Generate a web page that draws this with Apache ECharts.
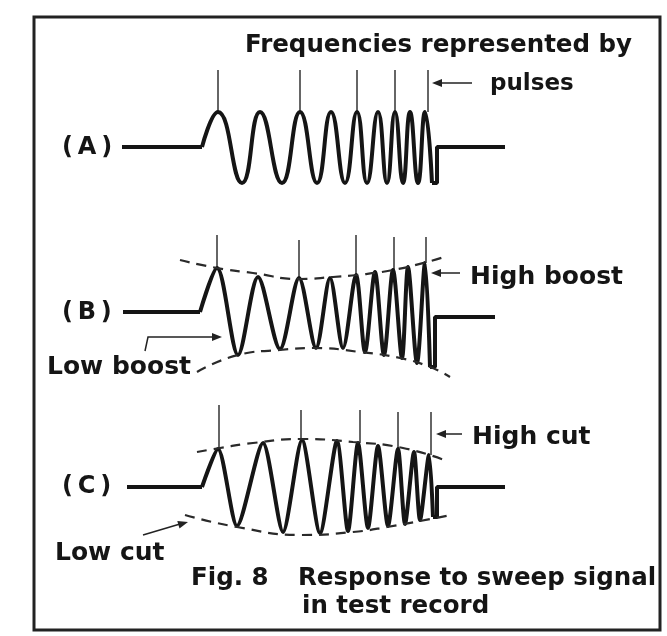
<!DOCTYPE html>
<html>
<head>
<meta charset="utf-8">
<title>Fig. 8 Response to sweep signal</title>
<script src="https://cdn.jsdelivr.net/npm/echarts@6.0.0/dist/echarts.min.js"></script>
<style>
  html, body { margin: 0; padding: 0; background: #fff; }
  #chart { width: 667px; height: 636px; }
</style>
</head>
<body>
<div id="chart"></div>
<script>
// time runs left to right on every trace, amplitude is measured from the trace's rest line

// (A) flat response
const aLead = [12, 92];
const aPeakT = [108, 150, 190, 221, 247, 268, 285, 300, 315];
const aPeakV = [35, 35, 35, 35, 35, 35, 35, 35, 35];
const aTroughT = [132, 172, 207, 235, 257, 277, 293, 308, 322];
const aTroughV = [-36, -36, -36, -36, -36, -36, -36, -36, -36];
const aTail = [327, 395, 0]; // drop time, end time, rest level
const aPulseT = [108, 190, 247, 285, 318];
const aPulseTop = [77, 77, 77, 77, 77];
const aPulseBase = [35, 35, 35, 35, 35];

// (B) low boost + high boost
const bLead = [13, 90];
const bPeakT = [107, 148, 189, 220, 246, 265, 283, 298, 315];
const bPeakV = [44, 35, 34, 34, 37, 40, 42, 45, 49];
const bTroughT = [128, 170, 206, 233, 255, 274, 292, 307, 320];
const bTroughV = [-43, -37, -36, -36, -40, -43, -46, -51, -55];
const bTail = [325, 385, -5];
const bPulseT = [107, 189, 246, 284, 316];
const bPulseTop = [77, 72, 77, 75, 75];
const bPulseBase = [44, 34, 37, 42, 49];
const bUpper = [[70, 52], [107, 44], [143, 39], [190, 33], [223, 35], [247, 37], [283, 42], [317, 50], [337, 56]];
const bLower = [[87, -60], [128, -43], [170, -38], [203, -36], [250, -40], [290, -46], [320, -55], [340, -65]];

// (C) low cut + high cut
const cLead = [17, 92];
const cPeakT = [108, 153, 192, 227, 248, 268, 288, 304, 319];
const cPeakV = [38, 44, 47, 46, 44, 41, 38, 35, 32];
const cTroughT = [127, 173, 210, 238, 258, 278, 295, 310, 323];
const cTroughV = [-39, -45, -46, -44, -41, -39, -37, -33, -30];
const cTail = [327, 395, 0];
const cPulseT = [109, 191, 250, 288, 321];
const cPulseTop = [82, 77, 77, 75, 75];
const cPulseBase = [38, 47, 44, 38, 32];
const cUpper = [[87, 35], [110, 39], [143, 44], [192, 48], [243, 45], [293, 39], [337, 26]];
const cLower = [[75, -28], [127, -40], [192, -48], [243, -45], [277, -40], [341, -28]];

const INK = '#151515';
const FONT = 'DejaVu Sans';

const traces = [
    { lead: aLead, peakT: aPeakT, peakV: aPeakV, troughT: aTroughT, troughV: aTroughV, tail: aTail,
      pulseT: aPulseT, pulseTop: aPulseTop, pulseBase: aPulseBase, smooth: 0.5 },
    { lead: bLead, peakT: bPeakT, peakV: bPeakV, troughT: bTroughT, troughV: bTroughV, tail: bTail,
      pulseT: bPulseT, pulseTop: bPulseTop, pulseBase: bPulseBase, smooth: 0.3, upper: bUpper, lower: bLower },
    { lead: cLead, peakT: cPeakT, peakV: cPeakV, troughT: cTroughT, troughV: cTroughV, tail: cTail,
      pulseT: cPulseT, pulseTop: cPulseTop, pulseBase: cPulseBase, smooth: 0.25, upper: cUpper, lower: cLower }
];

// rest lines of the three traces sit at y = 147, 312, 487
const gridTops = [47, 212, 387];

let grids = [], xAxes = [], yAxes = [], series = [];

traces.forEach(function (tr, k) {
    grids.push({ left: 110, top: gridTops[k], width: 400, height: 200 });
    xAxes.push({ type: 'value', gridIndex: k, min: 0, max: 400, show: false });
    yAxes.push({ type: 'value', gridIndex: k, min: -100, max: 100, show: false });

    let lineBase = { type: 'line', xAxisIndex: k, yAxisIndex: k, symbol: 'none', silent: true, clip: false };

    // rest line before the sweep
    series.push(Object.assign({}, lineBase, {
        data: [[tr.lead[0], 0], [tr.lead[1], 0]],
        lineStyle: { color: INK, width: 4 }
    }));

    // the sweep itself: peak, trough, peak ...
    let wave = [[tr.lead[1], 0]];
    for (let i = 0; i < tr.peakT.length; i++) {
        wave.push([tr.peakT[i], tr.peakV[i]]);
        wave.push([tr.troughT[i], tr.troughV[i]]);
    }
    series.push(Object.assign({}, lineBase, {
        data: wave,
        smooth: tr.smooth,
        lineStyle: { color: INK, width: 4, join: 'round' }
    }));

    // sharp return to the rest line after the sweep
    let last = tr.troughV[tr.troughV.length - 1];
    series.push(Object.assign({}, lineBase, {
        data: [[tr.troughT[tr.troughT.length - 1], last], [tr.tail[0], last], [tr.tail[0], tr.tail[2]], [tr.tail[1], tr.tail[2]]],
        lineStyle: { color: INK, width: 4 }
    }));

    // dashed envelopes
    if (tr.upper) {
        [tr.upper, tr.lower].forEach(function (env) {
            series.push(Object.assign({}, lineBase, {
                data: env,
                smooth: 0.5,
                lineStyle: { color: '#2a2a2a', width: 2.2, type: [10, 7] }
            }));
        });
    }

    // frequency marker pulses
    series.push({
        type: 'custom',
        xAxisIndex: k,
        yAxisIndex: k,
        silent: true,
        data: tr.pulseT.map(function (t, i) { return [t, tr.pulseTop[i], tr.pulseBase[i]]; }),
        renderItem: function (params, api) {
            let p1 = api.coord([api.value(0), api.value(1)]);
            let p2 = api.coord([api.value(0), api.value(2)]);
            return {
                type: 'line',
                shape: { x1: p1[0], y1: p1[1], x2: p2[0], y2: p2[1] },
                style: { stroke: '#333', lineWidth: 1.5 }
            };
        }
    });
});

function label (text, x, y, size) {
    return {
        type: 'text', x: x, y: y, silent: true,
        style: { text: text, fill: INK, font: 'bold ' + size + 'px "' + FONT + '"', textVerticalAlign: 'middle' }
    };
}

function arrow (points, tip, from) {
    // arrow head pointing at tip, coming from point "from"
    let dx = tip[0] - from[0], dy = tip[1] - from[1];
    let len = Math.sqrt(dx * dx + dy * dy);
    let ux = dx / len, uy = dy / len;
    let bx = tip[0] - ux * 10, by = tip[1] - uy * 10;
    return [
        { type: 'polyline', silent: true, shape: { points: points }, style: { stroke: '#222', lineWidth: 1.5, fill: null } },
        { type: 'polygon', silent: true,
          shape: { points: [tip, [bx - uy * 4, by + ux * 4], [bx + uy * 4, by - ux * 4]] },
          style: { fill: '#222' } }
    ];
}

let graphics = [
    { type: 'rect', silent: true, shape: { x: 34, y: 17, width: 626, height: 613 },
      style: { fill: null, stroke: '#222', lineWidth: 3 } },
    label('Frequencies represented by', 245, 46, 24.5),
    label('pulses', 490, 84, 23),
    label('(\u2009A\u2009)', 62, 148, 24),
    label('(\u2009B\u2009)', 62, 313, 24),
    label('(\u2009C\u2009)', 62, 487, 24),
    label('High boost', 470, 277, 25),
    label('Low boost', 47, 367, 25),
    label('High cut', 472, 437, 25),
    label('Low cut', 55, 553, 25),
    label('Fig. 8', 191, 579, 24.5),
    label('Response to sweep signal', 298, 579, 24.5),
    label('in test record', 302, 607, 24.5)
];
graphics = graphics
    .concat(arrow([[472, 83], [440, 83]], [432, 83], [472, 83]))
    .concat(arrow([[460, 273], [439, 273]], [431, 273], [460, 273]))
    .concat(arrow([[462, 434], [444, 434]], [436, 434], [462, 434]))
    .concat(arrow([[145, 351], [148, 337], [212, 337]], [222, 337], [148, 337]))
    .concat(arrow([[143, 535], [180, 524]], [188, 522], [143, 535]));

let chart = echarts.init(document.getElementById('chart'));
chart.setOption({
    animation: false,
    backgroundColor: '#fff',
    grid: grids,
    xAxis: xAxes,
    yAxis: yAxes,
    series: series,
    graphic: graphics
});
</script>
</body>
</html>
